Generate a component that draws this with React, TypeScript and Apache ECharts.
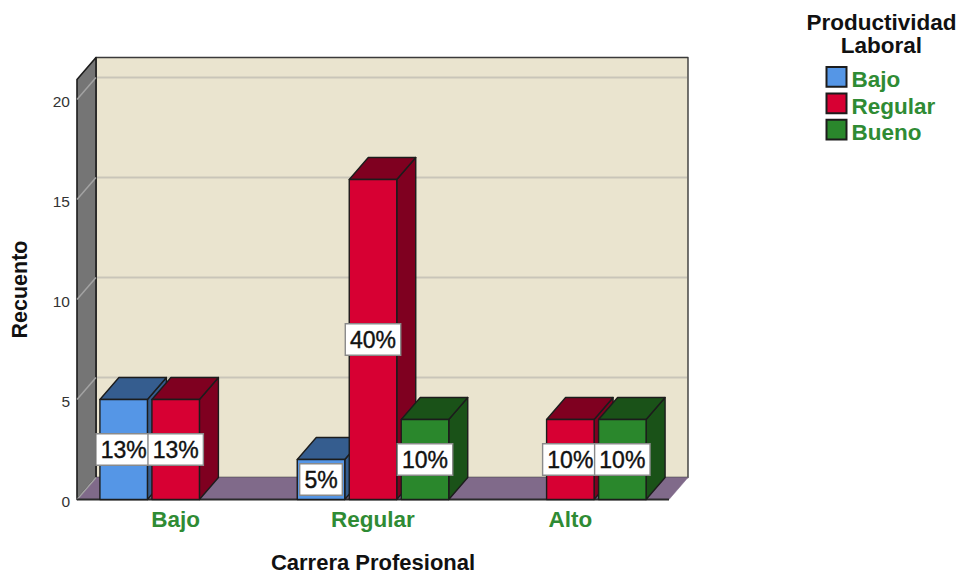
import React, { useEffect, useRef } from "react";
import * as echarts from "echarts";

const categories = ["Bajo", "Regular", "Alto"];
const productividad = ["Bajo", "Regular", "Bueno"];
const bajoValues = [5, 2, 0];
const regularValues = [5, 16, 4];
const buenoValues = [0, 4, 4];
const bajoLabels = ["13%", "5%", ""];
const regularLabels = ["13%", "40%", "10%"];
const buenoLabels = ["", "10%", "10%"];
const yTicks = [0, 5, 10, 15, 20];

const FONT = '"Liberation Sans", Arial, sans-serif';
const GREEN_TEXT = "#2F8B34";
const OUTLINE = "#1c1c1c";
const DEPTH_X = 19;
const DEPTH_Y = -22;
const BAR_WIDTH = 47.5;
const BAR_STEP = 52;

const poly = (points: number[][], fill: string, stroke = OUTLINE, lineWidth = 1.4, z2 = 0) => ({
  type: "polygon",
  z2,
  shape: { points },
  style: { fill, stroke, lineWidth, lineJoin: "round" },
});

const line = (x1: number, y1: number, x2: number, y2: number, stroke: string, lineWidth: number, z2 = 1) => ({
  type: "line",
  z2,
  shape: { x1, y1, x2, y2 },
  style: { stroke, lineWidth },
});

// Back wall, left wall, floor and gridlines of the box around the bars.
const renderBox = (params: any, api: any) => {
  const { x, y, width, height } = params.coordSys;
  const bottom = y + height;
  const right = x + width;
  const children: any[] = [
    poly([[x + DEPTH_X, y + DEPTH_Y], [right + DEPTH_X, y + DEPTH_Y], [right + DEPTH_X, bottom + DEPTH_Y], [x + DEPTH_X, bottom + DEPTH_Y]], "#EAE4CF", "#3a3a3a", 1.4),
    poly([[x, y], [x + DEPTH_X, y + DEPTH_Y], [x + DEPTH_X, bottom + DEPTH_Y], [x, bottom]], "#757575", OUTLINE, 1.6),
    poly([[x, bottom], [x + DEPTH_X, bottom + DEPTH_Y], [right + DEPTH_X, bottom + DEPTH_Y], [right, bottom]], "#806A8A", "#806A8A", 0.5),
  ];
  yTicks.forEach((tick) => {
    const py = api.coord([0, tick])[1];
    if (tick > 0) {
      children.push(line(x + DEPTH_X + 1, py + DEPTH_Y, right + DEPTH_X - 1, py + DEPTH_Y, "#C9C5B9", 2));
    }
    children.push(line(x, py, x + DEPTH_X, py + DEPTH_Y, "#A3A3A3", 1.5));
  });
  children.push(line(x, bottom, right, bottom, "#2a2a2a", 2, 2));
  return { type: "group", children };
};

// One bar as three faces plus its percentage tag.
const makeBarRenderer =
  (slot: number, labels: string[], front: string, shade: string) => (params: any, api: any) => {
    const value = api.value(1);
    if (!value) return null;
    const base = api.coord([api.value(0), 0]);
    const top = api.coord([api.value(0), value]);
    const cx = base[0] + slot * BAR_STEP;
    const l = cx - BAR_WIDTH / 2;
    const r = cx + BAR_WIDTH / 2;
    const t = top[1];
    const b = base[1];
    return {
      type: "group",
      children: [
        poly([[r, t], [r + DEPTH_X, t + DEPTH_Y], [r + DEPTH_X, b + DEPTH_Y], [r, b]], shade),
        poly([[l, t], [l + DEPTH_X, t + DEPTH_Y], [r + DEPTH_X, t + DEPTH_Y], [r, t]], shade),
        poly([[l, t], [r, t], [r, b], [l, b]], front),
        {
          type: "text",
          z2: 100,
          x: cx,
          y: (t + b) / 2,
          style: {
            text: labels[params.dataIndex],
            fill: "#111",
            stroke: "#111",
            lineWidth: 0.4,
            font: `23px ${FONT}`,
            align: "center",
            verticalAlign: "middle",
            backgroundColor: "#fff",
            borderColor: "#8a8a8a",
            borderWidth: 1.4,
            padding: [4, 4, 3, 4],
          },
        },
      ],
    };
  };

const barSeries = (
  name: string,
  values: number[],
  slot: number,
  labels: string[],
  front: string,
  shade: string
) => ({
  type: "custom",
  name,
  z: 3,
  silent: true,
  itemStyle: { color: front, borderColor: OUTLINE, borderWidth: 1.4 },
  encode: { x: 0, y: 1 },
  data: values.map((v, i) => [i, v]),
  renderItem: makeBarRenderer(slot, labels, front, shade),
});

export default function App() {
  const ref = useRef<HTMLDivElement>(null);

  useEffect(() => {
    const chart = echarts.init(ref.current!, undefined, { renderer: "svg" });
    chart.setOption({
      animation: false,
      backgroundColor: "#fff",
      textStyle: { fontFamily: FONT },
      title: {
        text: "Productividad\nLaboral",
        left: 876.5,
        top: 6,
        textAlign: "center",
        padding: 5,
        textStyle: { fontFamily: FONT, fontSize: 22.5, fontWeight: "bold", color: "#111", lineHeight: 23 },
      },
      legend: {
        orient: "vertical",
        left: 825.5,
        top: 62.4,
        padding: 0,
        itemWidth: 20,
        itemHeight: 19.7,
        itemGap: -2.6,
        icon: "rect",
        selectedMode: false,
        data: productividad,
        formatter: "{t|{name}}",
        textStyle: {
          rich: {
            t: {
              fontFamily: FONT,
              fontSize: 22.5,
              fontWeight: "bold",
              color: GREEN_TEXT,
              lineHeight: 20,
              padding: [6, 0, 0, 0],
            },
          },
        },
      },
      grid: { left: 77, top: 79.5, width: 592, height: 420, outerBoundsMode: "none" },
      xAxis: {
        type: "category",
        data: categories,
        name: "Carrera Profesional",
        nameLocation: "middle",
        nameGap: 53.5,
        nameTextStyle: { fontFamily: FONT, fontSize: 22, fontWeight: "bold", color: "#111", lineHeight: 19 },
        axisLine: { show: false },
        axisTick: { show: false },
        axisLabel: { margin: 8, fontFamily: FONT, fontSize: 22.5, fontWeight: "bold", color: GREEN_TEXT },
        splitLine: { show: false },
      },
      yAxis: {
        type: "value",
        min: 0,
        max: 21,
        interval: 5,
        name: "Recuento",
        nameLocation: "middle",
        nameGap: 46,
        nameTextStyle: { fontFamily: FONT, fontSize: 21.5, fontWeight: "bold", color: "#111" },
        axisLine: { show: false },
        axisTick: { show: false },
        axisLabel: {
          margin: 7,
          fontFamily: FONT,
          fontSize: 15.5,
          color: "#333",
          verticalAlign: "top",
          padding: [-6, 0, 0, 0],
          showMaxLabel: false,
        },
        splitLine: { show: false },
      },
      series: [
        {
          type: "custom",
          name: "box",
          z: 1,
          silent: true,
          encode: { x: 0, y: 1 },
          data: [[0, 0]],
          renderItem: renderBox,
        },
        barSeries("Bajo", bajoValues, -1, bajoLabels, "#5596E6", "#355D8F"),
        barSeries("Regular", regularValues, 0, regularLabels, "#D70033", "#7F0020"),
        barSeries("Bueno", buenoValues, 1, buenoLabels, "#2A872C", "#1A5218"),
      ],
    });
    return () => chart.dispose();
  }, []);

  return <div ref={ref} style={{ position: "fixed", left: 0, top: 0, width: 962, height: 574 }} />;
}
